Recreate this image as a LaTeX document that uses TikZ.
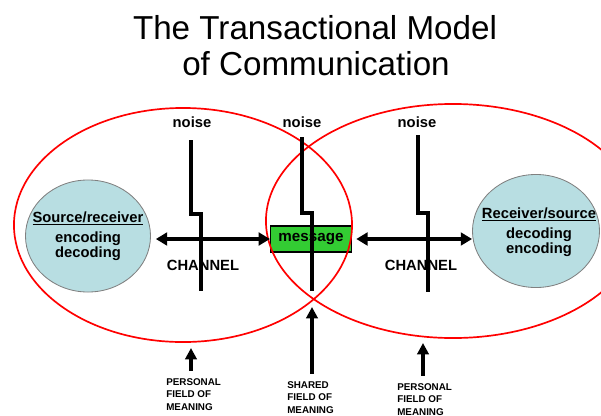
\documentclass[tikz,border=0pt]{standalone}
\usepackage{fontspec}
\setmainfont{Liberation Sans}
\usetikzlibrary{shapes.geometric,arrows.meta}

\definecolor{partyblue}{RGB}{184,222,226}
\definecolor{msggreen}{RGB}{51,204,51}

\begin{document}
\begin{tikzpicture}[x=0.025cm, y=-0.025cm]
    % Styles
    \tikzstyle{field} = [ellipse, draw=red, line width=1.2pt, inner sep=0pt]
    \tikzstyle{party} = [ellipse, draw=gray, fill=partyblue, line width=0.6pt, inner sep=0pt]
    \tikzstyle{partytext} = [align=center, inner sep=0pt, font=\bfseries\fontsize{10.5}{10.3}\selectfont]
    \tikzstyle{message} = [rectangle, draw, fill=msggreen, line width=0.8pt, minimum width=2.025cm, minimum height=0.65cm, inner sep=0pt, font=\bfseries\fontsize{10.8}{12}\selectfont]
    \tikzstyle{tag} = [inner sep=0pt, font=\bfseries\fontsize{10.5}{12}\selectfont]
    \tikzstyle{fieldtag} = [align=left, inner sep=0pt, anchor=north west, font=\bfseries\fontsize{7}{8.9}\selectfont]
    \tikzstyle{noiseline} = [line width=2.2pt]
    \tikzstyle{arrow} = [line width=2.2pt, <->, >={Triangle[length=8pt,width=9pt]}]
    \tikzstyle{uparrow} = [line width=2.2pt, ->, >={Triangle[length=8pt,width=8pt]}, shorten <=5pt]

    \useasboundingbox (0,0) rectangle (601,416);

    % Title
    \node[anchor=base, font=\fontsize{23.6}{27}\selectfont] (title) at (315,39) {The Transactional Model};
    \node[anchor=base, font=\fontsize{23.6}{27}\selectfont] (subtitle) at (316,75) {of Communication};

    % Nodes
    \node[party, minimum width=3.125cm, minimum height=2.8cm] (src) at (88,236) {};
    \node[party, minimum width=3.175cm, minimum height=2.825cm] (rcv) at (536,231) {};
    \node[message] (msg) at (311,239) {message};
    \node[field, minimum width=8.45cm, minimum height=5.85cm] (fieldL) at (183,225) {};
    \node[field, minimum width=9.35cm, minimum height=5.85cm] (fieldR) at (453,221) {};
    \node[partytext] (srctext) at (88,236) {\underline{Source/receiver}\\[4pt]encoding\\decoding};
    \node[partytext] (rcvtext) at (539,232) {\underline{Receiver/source}\\[4pt]decoding\\encoding};

    % Noise
    \node[tag, anchor=base] (noise1) at (192,127) {noise};
    \node[tag, anchor=base] (noise2) at (302,127) {noise};
    \node[tag, anchor=base] (noise3) at (417,127) {noise};
    \draw[noiseline] (191,140) -- (191,214) -- (201,214) -- (201,291);
    \draw[noiseline] (302,137) -- (302,213) -- (312,213) -- (312,291);
    \draw[noiseline] (418,135) -- (418,213) -- (428,213) -- (428,292);

    % Channel
    \node[tag, anchor=base] (chan1) at (203,270) {CHANNEL};
    \node[tag, anchor=base] (chan2) at (421,270) {CHANNEL};
    \draw[arrow, shorten <=3.5pt] (msg.west -| src.east) -- (msg.west);
    \draw[arrow, shorten <=3pt] (msg.east) -- (msg.east -| rcv.west);

    % Fields of meaning
    \node[fieldtag] (pers1) at (166,378) {PERSONAL\\FIELD OF\\MEANING};
    \node[fieldtag] (shared) at (287,381) {SHARED\\FIELD OF\\MEANING};
    \node[fieldtag] (pers2) at (397,383) {PERSONAL\\FIELD OF\\MEANING};
    \coordinate (tip1) at (191,348);
    \coordinate (tip2) at (312,307);
    \coordinate (tip3) at (423,343);
    \draw[uparrow] (tip1 |- pers1.north) -- (tip1);
    \draw[uparrow] (tip2 |- shared.north) -- (tip2);
    \draw[uparrow] (tip3 |- pers2.north) -- (tip3);
\end{tikzpicture}
\end{document}
